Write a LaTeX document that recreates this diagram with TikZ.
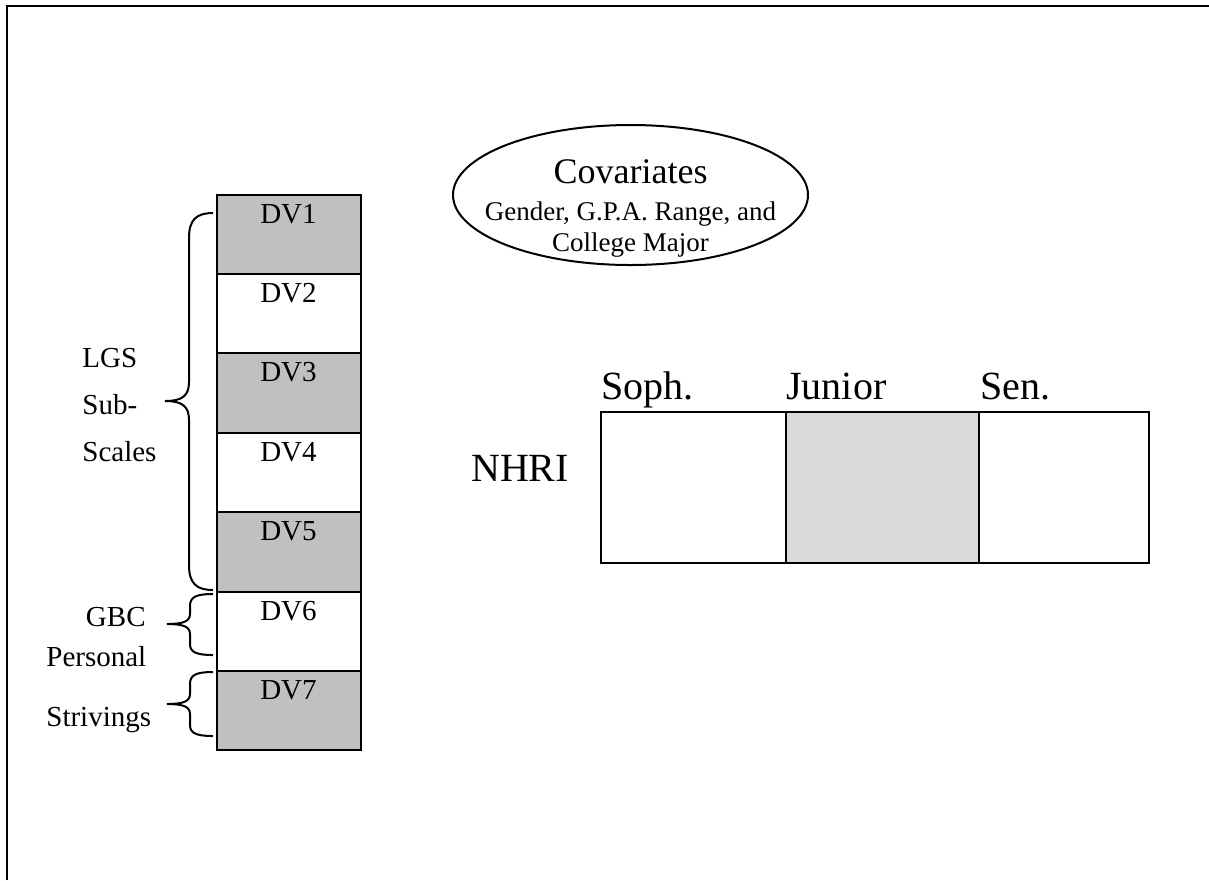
\documentclass[tikz,border=0pt]{standalone}
\usepackage{fontspec}
\setmainfont{Liberation Serif}
\usetikzlibrary{positioning,shapes.geometric}
\definecolor{dvgray}{RGB}{192,192,192}
\definecolor{juniorgray}{RGB}{217,217,217}
\tikzset{
  dvcell/.style={draw, line width=1pt, rectangle, minimum width=72pt, minimum height=39.7pt, inner sep=0pt},
  dvlabel/.style={font=\fontsize{14.5}{17}\selectfont, inner sep=2pt},
  sidelabel/.style={font=\fontsize{14.5}{17}\selectfont, inner sep=0pt},
  yearcell/.style={draw, line width=1pt, rectangle, minimum height=75.5pt, inner sep=0pt},
  biglabel/.style={font=\fontsize{20}{24}\selectfont, inner sep=0pt},
  smalllabel/.style={font=\fontsize{13.5}{16}\selectfont, inner sep=0pt},
  bracket/.style={line width=1pt},
}
\begin{document}
\begin{tikzpicture}[x=0.5pt, y=-0.5pt]
\useasboundingbox (0,0) rectangle (1209,880);
% frame
\draw[line width=1.2pt] (7,880) -- (7,6) -- (1209,6);
% dependent variables
\node[dvcell, fill=dvgray] (dv1) at (288.5,234.2) {};
\node[dvcell] (dv2) at (288.5,313.6) {};
\node[dvcell, fill=dvgray] (dv3) at (288.5,393.0) {};
\node[dvcell] (dv4) at (288.5,472.4) {};
\node[dvcell, fill=dvgray] (dv5) at (288.5,551.8) {};
\node[dvcell] (dv6) at (288.5,631.2) {};
\node[dvcell, fill=dvgray] (dv7) at (288.5,710.6) {};
\node[dvlabel, below=3pt of dv1.north] (dv1txt) {DV1};
\node[dvlabel, below=3pt of dv2.north] (dv2txt) {DV2};
\node[dvlabel, below=3pt of dv3.north] (dv3txt) {DV3};
\node[dvlabel, below=3pt of dv4.north] (dv4txt) {DV4};
\node[dvlabel, below=3pt of dv5.north] (dv5txt) {DV5};
\node[dvlabel, below=3pt of dv6.north] (dv6txt) {DV6};
\node[dvlabel, below=3pt of dv7.north] (dv7txt) {DV7};
% braces
\draw[bracket] (213,213) .. controls (196,213) and (189,220) .. (189,238) -- (189,382)
  .. controls (189,396) and (182,401) .. (165,401) .. controls (182,401) and (189,406) .. (189,420)
  -- (189,565) .. controls (189,583) and (196,590) .. (213,590);
\draw[bracket] (213,594) .. controls (196,594) and (190,597) .. (190,606) -- (190,614)
  .. controls (190,621) and (184,624) .. (167,624) .. controls (184,624) and (190,627) .. (190,634)
  -- (190,644) .. controls (190,652) and (196,655) .. (213,655);
\draw[bracket] (213,672) .. controls (196,672) and (190,675) .. (190,684) -- (190,694)
  .. controls (190,701) and (184,704) .. (167,704) .. controls (184,704) and (190,707) .. (190,714)
  -- (190,725) .. controls (190,733) and (196,736) .. (213,736);
\node[sidelabel, anchor=west] (lgs) at (82,358) {LGS};
\node[sidelabel, anchor=west] (sub) at (82,405) {Sub-};
\node[sidelabel, anchor=west] (scales) at (82,452) {Scales};
\node[sidelabel, anchor=east] (gbc) at (146,617) {GBC};
\node[sidelabel, anchor=west] (personal) at (46,657) {Personal};
\node[sidelabel, anchor=west] (strivings) at (46,720) {Strivings};
% covariates
\node[draw, line width=1pt, ellipse, minimum width=177.5pt, minimum height=70pt, inner sep=0pt] (cov) at (630.5,195) {};
\node[font=\fontsize{18}{22}\selectfont, inner sep=0pt] (covtitle) at (630.5,172) {Covariates};
\node[smalllabel] (covline1) at (630.5,214) {Gender, G.P.A. Range, and};
\node[smalllabel] (covline2) at (630.5,245) {College Major};
% NHRI by class year
\node[yearcell, minimum width=92.5pt] (soph) at (693.5,487.5) {};
\node[yearcell, minimum width=96.5pt, fill=juniorgray] (junior) at (882.5,487.5) {};
\node[yearcell, minimum width=85pt] (sen) at (1064,487.5) {};
\node[biglabel, anchor=base west] (sophtxt) at (601,399) {Soph.};
\node[biglabel, anchor=base west] (juniortxt) at (786,399) {Junior};
\node[biglabel, anchor=base west] (sentxt) at (980,399) {Sen.};
\node[biglabel] (nhri) at (520,468) {NHRI};
\end{tikzpicture}
\end{document}
